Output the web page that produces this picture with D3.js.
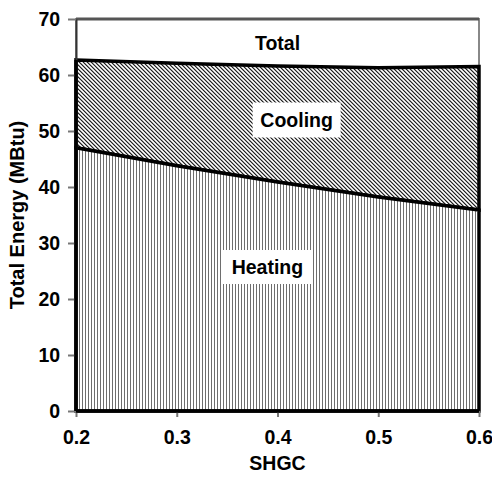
<!DOCTYPE html>
<html>
<head>
<meta charset="utf-8">
<script src="https://cdn.jsdelivr.net/npm/d3@7"></script>
<style>
  body { margin: 0; background: #fff; }
  text { font-family: "Liberation Sans", Arial, sans-serif; font-weight: bold; }
</style>
</head>
<body>
<div id="chart"></div>
<script>
// SHGC values and the stacked energy curves (MBtu)
const shgc = [0.2, 0.3, 0.4, 0.5, 0.6];
const heating = [47.0, 43.8, 40.9, 38.2, 35.9];
const total = [62.7, 62.1, 61.6, 61.3, 61.5];
const xTicks = [0.2, 0.3, 0.4, 0.5, 0.6];
const yTicks = [0, 10, 20, 30, 40, 50, 60, 70];

const W = 492, H = 487;
const margin = {top: 19, right: 13, bottom: 76, left: 76};
const w = W - margin.left - margin.right;
const h = H - margin.top - margin.bottom;
const fs = '19.5px';

const svg = d3.select('#chart').append('svg')
    .attr('width', W)
    .attr('height', H);

// fill patterns
const defs = svg.append('defs');
const vert = defs.append('pattern')
    .attr('id', 'vert')
    .attr('patternUnits', 'userSpaceOnUse')
    .attr('width', 3).attr('height', 3);
vert.append('rect').attr('width', 3).attr('height', 3).attr('fill', '#fff');
vert.append('rect').attr('width', 1).attr('height', 3).attr('fill', '#6e6e6e');

const diag = defs.append('pattern')
    .attr('id', 'diag')
    .attr('patternUnits', 'userSpaceOnUse')
    .attr('width', 4).attr('height', 4);
diag.append('rect').attr('width', 4).attr('height', 4).attr('fill', '#fff');
[0, 1, 2, 3].forEach(i => {
    diag.append('rect').attr('x', i).attr('y', i).attr('width', 1).attr('height', 1).attr('fill', '#222');
    diag.append('rect').attr('x', (i + 1) % 4).attr('y', i).attr('width', 1).attr('height', 1).attr('fill', '#999');
    diag.append('rect').attr('x', (i + 3) % 4).attr('y', i).attr('width', 1).attr('height', 1).attr('fill', '#ccc');
});

const g = svg.append('g')
    .attr('transform', `translate(${margin.left}, ${margin.top})`);

const x = d3.scaleLinear().domain([0.2, 0.6]).range([0, w]);
const y = d3.scaleLinear().domain([0, 70]).range([h, 0]);

const data = shgc.map((s, i) => ({s, heat: heating[i], tot: total[i]}));

// plot border (gray)
g.append('rect')
    .attr('width', w).attr('height', h)
    .attr('fill', '#fff')
    .attr('stroke', '#888')
    .attr('stroke-width', 2);
g.append('line').attr('x1', 0).attr('x2', w).attr('y1', 0).attr('y2', 0)
    .attr('stroke', '#555').attr('stroke-width', 3);

// cooling area (between heating and total)
g.append('path')
    .datum(data)
    .attr('fill', 'url(#diag)')
    .attr('stroke', '#000')
    .attr('stroke-width', 3.5)
    .attr('d', d3.area().x(d => x(d.s)).y0(d => y(d.heat)).y1(d => y(d.tot)));

// heating area
g.append('path')
    .datum(data)
    .attr('fill', 'url(#vert)')
    .attr('stroke', '#000')
    .attr('stroke-width', 3.5)
    .attr('d', d3.area().x(d => x(d.s)).y0(y(0)).y1(d => y(d.heat)));

// axes
const xAxis = g.append('g')
    .attr('transform', `translate(0, ${h})`)
    .call(d3.axisBottom(x).tickValues(xTicks).tickFormat(d3.format('.1f')).tickSize(6).tickSizeOuter(0));
const yAxis = g.append('g')
    .call(d3.axisLeft(y).tickValues(yTicks).tickSize(8).tickSizeOuter(0));

[xAxis, yAxis].forEach(a => {
    a.select('.domain').attr('stroke', '#333').attr('stroke-width', 2);
    a.selectAll('.tick line').attr('stroke', '#777').attr('stroke-width', 2);
    a.selectAll('.tick text').attr('font-size', fs).attr('fill', '#000');
});
xAxis.selectAll('.tick text').attr('y', 19);
yAxis.selectAll('.tick text').attr('dx', '-0.25em');

// black edges of the areas drawn over the axes
g.append('line').attr('x1', 0).attr('x2', w).attr('y1', h).attr('y2', h)
    .attr('stroke', '#000').attr('stroke-width', 3.5);
g.append('line').attr('x1', 0).attr('x2', 0).attr('y1', h).attr('y2', y(total[0]))
    .attr('stroke', '#000').attr('stroke-width', 3.5);

// region labels with white boxes
function boxLabel(txt, cx, cy, bw, bh) {
    g.append('rect')
        .attr('x', cx - bw / 2).attr('y', cy - bh / 2)
        .attr('width', bw).attr('height', bh)
        .attr('fill', '#fff');
    g.append('text')
        .attr('x', cx).attr('y', cy)
        .attr('dy', '0.36em')
        .attr('text-anchor', 'middle')
        .attr('font-size', fs)
        .text(txt);
}
g.append('text')
    .attr('x', x(0.4)).attr('y', 43 - margin.top)
    .attr('dy', '0.36em')
    .attr('text-anchor', 'middle')
    .attr('font-size', fs)
    .text('Total');
boxLabel('Cooling', x(0.419), 120 - margin.top, 88, 35);
boxLabel('Heating', x(0.39), 267 - margin.top, 90, 34);

// axis titles
svg.append('text')
    .attr('x', margin.left + w / 2)
    .attr('y', 470)
    .attr('text-anchor', 'middle')
    .attr('font-size', fs)
    .text('SHGC');
svg.append('text')
    .attr('transform', `translate(24, ${margin.top + h / 2}) rotate(-90)`)
    .attr('text-anchor', 'middle')
    .attr('font-size', '20px')
    .text('Total Energy (MBtu)');
</script>
</body>
</html>
